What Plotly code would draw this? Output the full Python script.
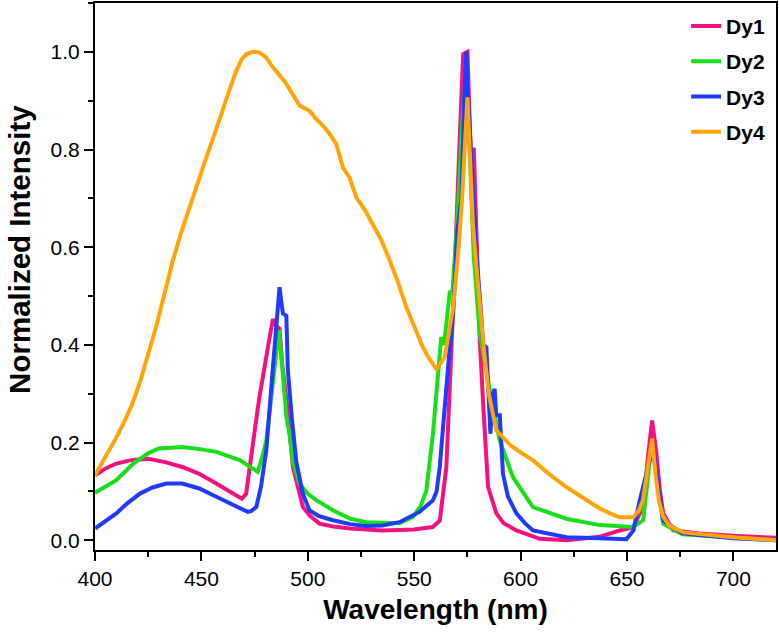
import plotly.graph_objects as go

# ---- data ----
dy1_wl = [400, 405, 410, 417, 425, 433, 441, 449, 457, 465, 469, 471, 473.4, 477, 481, 483.6, 485, 486.7,
          488, 490, 493, 497.7, 501, 505.5, 512, 520, 535, 543, 550, 558.7, 562, 565.1, 567.5, 569, 571,
          573, 575, 576.5, 578, 580.8, 582.3, 584.7, 588.6, 592, 598, 609, 621.5, 637, 646.6, 653,
          656, 658.5, 660, 661.8, 663.8, 665.5, 667, 671.7, 684, 700, 720]
dy1_int = [0.133, 0.147, 0.157, 0.164, 0.167, 0.160, 0.150, 0.136, 0.116, 0.095, 0.085, 0.095, 0.177, 0.286,
           0.389, 0.453, 0.44, 0.433, 0.36, 0.286, 0.15, 0.068, 0.05, 0.034, 0.028, 0.024, 0.02, 0.02, 0.022,
           0.027, 0.04, 0.15, 0.375, 0.55, 0.78, 0.995, 1.0, 0.80, 0.80, 0.41, 0.286, 0.109, 0.055, 0.035, 0.02,
           0.003, 0.0, 0.007, 0.02, 0.027, 0.055, 0.11, 0.177, 0.245, 0.177, 0.10, 0.055, 0.02, 0.014, 0.009,
           0.005]

dy2_wl = [400, 405, 410, 418, 425, 430, 441, 450, 457, 468, 476.5, 478.5, 480.5, 483, 485.2, 486.4, 487.5,
          488.3, 489.1, 490, 491.4, 493, 496, 500, 504, 512, 520, 527.5, 543, 549.4, 553, 555.7, 558.8, 561.2,
          562.7, 564, 566.7, 568, 570.6, 572.5, 574.5, 576, 578, 580.8, 585.5, 590.2, 596.4, 605.8, 621.5,
          637.2, 652.9, 657.6, 660.7, 662, 664, 667, 676, 700, 720]
dy2_int = [0.097, 0.11, 0.123, 0.157, 0.178, 0.188, 0.191, 0.186, 0.181, 0.164, 0.14, 0.17, 0.204, 0.30,
           0.389, 0.43, 0.38, 0.341, 0.307, 0.25, 0.218, 0.16, 0.116, 0.095, 0.082, 0.061, 0.044, 0.037, 0.035,
           0.048, 0.07, 0.102, 0.218, 0.354, 0.416, 0.40, 0.508, 0.51, 0.682, 0.85, 0.97, 0.80, 0.58, 0.423,
           0.307, 0.204, 0.129, 0.068, 0.044, 0.031, 0.027, 0.041, 0.164, 0.19, 0.13, 0.034, 0.012, 0.005, 0.0]

dy3_wl = [400, 405, 410, 415, 421, 427, 433.5, 441, 449, 457, 465, 471.8, 473.5, 475.8, 478, 480.5, 483.6,
          485.5, 486.7, 487.5, 488.3, 489.9, 490.6, 492.5, 494.6, 497.7, 500.8, 505, 511.8, 520, 527.5, 535,
          543, 552.5, 558.8, 560.5, 562, 566.3, 568.3, 570.3, 572.2, 573.5, 574.5, 575.3, 577, 579, 581.5,
          582.4, 583.9, 585.8, 587, 587.8, 588.5, 590.2, 591.7, 594, 598, 602, 605.8, 621.5, 637, 649.7, 653,
          656, 660.7, 662, 664, 667, 676, 700, 720]
dy3_int = [0.024, 0.04, 0.055, 0.075, 0.095, 0.108, 0.116, 0.116, 0.106, 0.089, 0.072, 0.058, 0.06, 0.068,
           0.11, 0.184, 0.354, 0.46, 0.518, 0.49, 0.464, 0.46, 0.35, 0.25, 0.16, 0.095, 0.061, 0.05, 0.041,
           0.033, 0.029, 0.03, 0.037, 0.058, 0.082, 0.10, 0.15, 0.375, 0.464, 0.634, 0.70, 0.90, 1.0, 0.91,
           0.75, 0.60, 0.46, 0.40, 0.395, 0.218, 0.30, 0.31, 0.256, 0.256, 0.136, 0.09, 0.055, 0.035, 0.02,
           0.006, 0.004, 0.002, 0.02, 0.082, 0.164, 0.20, 0.13, 0.04, 0.014, 0.004, 0.0]

dy4_wl = [400, 405, 410, 414, 417.6, 421, 425, 428.8, 431.8, 436.6, 440.5, 444.4, 448.3, 452.3, 456.2, 460.1,
          463.2, 466.4, 469, 471.1, 474, 477.3, 480.5, 483, 486.7, 489, 491.4, 493.8, 496.1, 500.8, 504, 507.1,
          510.3, 513.4, 516.5, 519.6, 522.8, 526.7, 530.6, 534.5, 538.5, 542.4, 546.3, 550.2, 554.1, 557,
          559, 560.4, 562, 564.3, 566.5, 568.3, 570.6, 572.5, 575, 576, 577.6, 579.2, 580.8, 583, 585, 588.6,
          590.2, 595, 600, 605.7, 613, 621.5, 630, 637.2, 642, 646.6, 652.9, 655.5, 657.5, 660, 661.8, 663.5,
          665, 667, 670, 676.4, 690, 700, 720]
dy4_int = [0.133, 0.17, 0.21, 0.245, 0.28, 0.322, 0.38, 0.438, 0.49, 0.573, 0.63, 0.682, 0.735, 0.784,
           0.832, 0.879, 0.922, 0.961, 0.985, 0.995, 1.0, 0.999, 0.988, 0.972, 0.954, 0.94, 0.924, 0.905, 0.890,
           0.879, 0.862, 0.849, 0.832, 0.811, 0.763, 0.743, 0.702, 0.677, 0.648, 0.615, 0.573, 0.528, 0.477,
           0.435, 0.395, 0.372, 0.358, 0.351, 0.36, 0.375, 0.43, 0.477, 0.586, 0.70, 0.907, 0.80, 0.647, 0.56,
           0.477, 0.38, 0.30, 0.225, 0.218, 0.195, 0.18, 0.164, 0.137, 0.109, 0.085, 0.065, 0.055, 0.047, 0.047,
           0.06, 0.082, 0.15, 0.208, 0.13, 0.08, 0.048, 0.03, 0.016, 0.01, 0.006, 0.0]

names = ["Dy1", "Dy2", "Dy3", "Dy4"]
colors = ["#F5117F", "#17E017", "#1F3BFF", "#FFA50A"]

x_ticks = [400, 450, 500, 550, 600, 650, 700]
y_ticks = [0.0, 0.2, 0.4, 0.6, 0.8, 1.0]
y_tick_text = ["0.0", "0.2", "0.4", "0.6", "0.8", "1.0"]

x_title = "Wavelength (nm)"
y_title = "Normalized Intensity"

series = [(dy1_wl, dy1_int), (dy2_wl, dy2_int), (dy3_wl, dy3_int), (dy4_wl, dy4_int)]

FONT = "Liberation Sans, Arial, sans-serif"

fig = go.Figure()
for (wl, it), nm, c in zip(series, names, colors):
    fig.add_trace(go.Scatter(x=wl, y=it, mode="lines", name=nm, legendgroup=nm,
                             line=dict(color=c, width=4)))

axis_common = dict(
    showline=True, linecolor="black", linewidth=2, mirror=True,
    ticks="outside", ticklen=9, tickwidth=1.5, tickcolor="black",
    showgrid=False, zeroline=False, automargin=False,
    tickfont=dict(family=FONT, size=21, color="black"),
    minor=dict(ticks="outside", ticklen=5, tickwidth=1.5, tickcolor="black", showgrid=False),
)

fig.update_xaxes(range=[400, 720], tickvals=x_ticks, minor_dtick=25,
                 title=dict(text=x_title, font=dict(family=FONT, size=28, color="black", weight="bold"),
                            standoff=10),
                 **axis_common)
fig.update_yaxes(range=[-0.02, 1.1], tickvals=y_ticks, ticktext=y_tick_text, minor_dtick=0.1,
                 **axis_common)

# y-axis title (placed slightly above centre, as in the reference)
fig.add_annotation(text=y_title, xref="paper", yref="paper", x=-0.112, y=0.55,
                   xanchor="center", yanchor="middle", textangle=-90, showarrow=False,
                   font=dict(family=FONT, size=29.5, color="black", weight="bold"))

fig.update_layout(
    width=779, height=635,
    margin=dict(l=95, r=3, t=3, b=85),
    paper_bgcolor="white", plot_bgcolor="white",
    showlegend=True,
    legend=dict(x=0.868, y=0.995, xanchor="left", yanchor="top",
                bgcolor="rgba(0,0,0,0)", tracegroupgap=5,
                font=dict(family=FONT, size=21, color="black", weight="bold")),
)

fig.write_html("out.html", config={"displayModeBar": False},
               post_script="document.body.style.margin='0';document.body.style.overflow='hidden';")
